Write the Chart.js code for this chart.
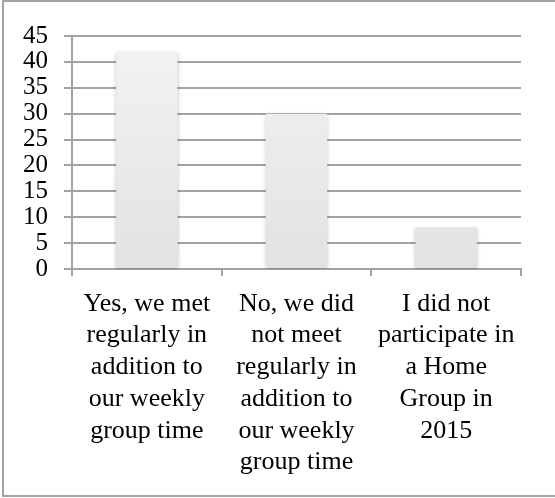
<!DOCTYPE html>
<html>
<head>
<meta charset="utf-8">
<script src="https://cdn.jsdelivr.net/npm/chart.js@4/dist/chart.umd.min.js"></script>
<style>
  html, body { margin: 0; padding: 0; background: #fff; width: 555px; height: 498px; overflow: hidden; }
  #frame {
    position: absolute; left: 2px; top: 0; width: 553px; height: 497px;
    border-top: 2px solid #a3a3a3; border-left: 2px solid #a3a3a3; border-bottom: 2px solid #a3a3a3;
    box-sizing: border-box;
  }
  #wrap { position: absolute; left: 0; top: 0; width: 555px; height: 498px; }
</style>
</head>
<body>
<div id="frame"></div>
<div id="wrap"><canvas id="grafico"></canvas></div>
<script>
const categorias = [
  ["Yes, we met", "regularly in", "addition to", "our weekly", "group time"],
  ["No, we did", "not meet", "regularly in", "addition to", "our weekly", "group time"],
  ["I did not", "participate in", "a Home", "Group in", "2015"]
];
const respostas = [42, 30, 8];
const yMin = 0;
const yMax = 45;
const yPasso = 5;

const sombra = {
  id: "sombra",
  beforeDatasetsDraw(chart) {
    const ctx = chart.ctx;
    ctx.save();
    ctx.shadowColor = "rgba(0,0,0,0.22)";
    ctx.shadowBlur = 4;
    ctx.shadowOffsetX = 0;
    ctx.shadowOffsetY = 1;
  },
  afterDatasetsDraw(chart) {
    chart.ctx.restore();
  }
};

function gradiente(context) {
  const area = context.chart.chartArea;
  if (!area) return "#ebebeb";
  const g = context.chart.ctx.createLinearGradient(0, area.top, 0, area.bottom);
  g.addColorStop(0, "#f3f3f3");
  g.addColorStop(1, "#e2e2e2");
  return g;
}

const familia = "'Liberation Serif', 'Times New Roman', serif";

new Chart(document.querySelector("#grafico"), {
  type: "bar",
  data: {
    labels: categorias,
    datasets: [{
      data: respostas,
      backgroundColor: gradiente,
      borderWidth: 0,
      categoryPercentage: 1,
      barPercentage: 0.41
    }]
  },
  options: {
    responsive: true,
    maintainAspectRatio: false,
    animation: false,
    events: [],
    layout: { padding: { left: 0, top: 36, right: 34, bottom: 0 } },
    plugins: { legend: { display: false }, tooltip: { enabled: false } },
    scales: {
      x: {
        grid: { offset: true, drawOnChartArea: false, drawTicks: true, tickLength: 7, color: "#a3a3a3", lineWidth: 2 },
        border: { color: "#a3a3a3", width: 2 },
        ticks: { color: "#000", font: { family: familia, size: 26, lineHeight: 1.22 }, padding: 12, maxRotation: 0, autoSkip: false },
        afterFit(scale) { scale.height = 498 - 269; }
      },
      y: {
        min: yMin,
        max: yMax,
        grid: { color: "#a3a3a3", lineWidth: 2, tickLength: 8 },
        border: { color: "#a3a3a3", width: 2 },
        ticks: { stepSize: yPasso, autoSkip: false, color: "#000", font: { family: familia, size: 25, lineHeight: 1 }, padding: 16 },
        afterFit(scale) { scale.width = 72; }
      }
    }
  },
  plugins: [sombra]
});
</script>
</body>
</html>
